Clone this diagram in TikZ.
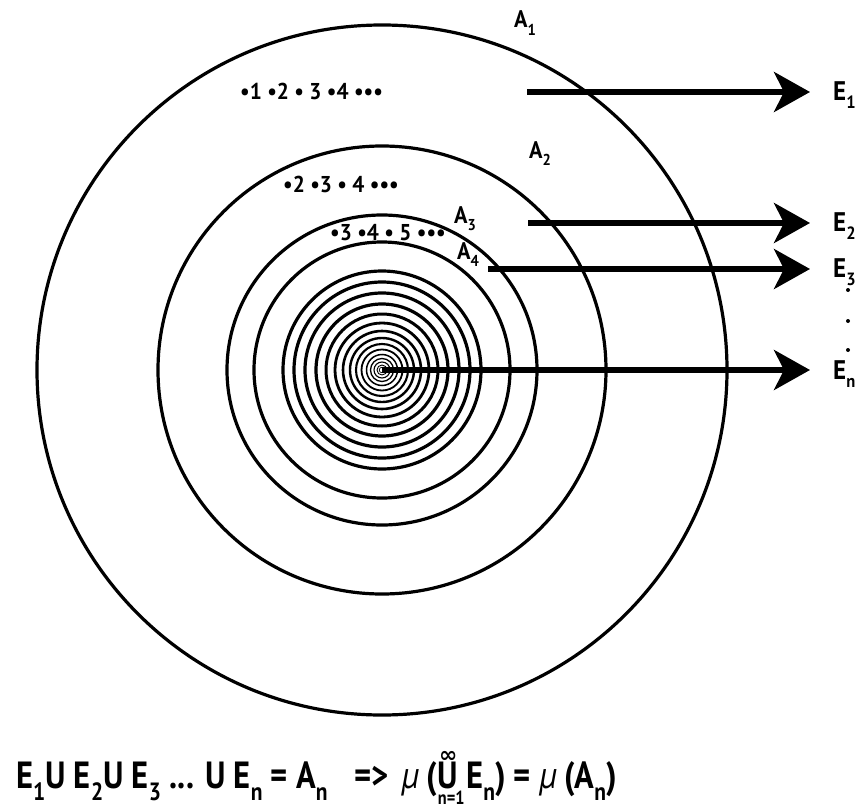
\documentclass[tikz,border=0pt]{standalone}
\usepackage{fontspec}
\usepackage{graphicx}
\setmainfont[FakeStretch=0.86]{PT Sans}
\newfontfamily\labfont[FakeStretch=0.93]{PT Sans}
\newfontfamily\symfont{DejaVu Sans}
\usetikzlibrary{arrows.meta}
\newcommand{\lsub}[1]{\raisebox{-0.32em}{\scalebox{0.66}{#1}}}
\tikzset{
  ring/.style={line width=3.2bp},
  arr/.style={line width=5.5bp,-{Stealth[length=36bp,width=40bp,inset=10bp]}},
  elab/.style={anchor=base west,inner sep=0pt,font=\labfont\bfseries\fontsize{27}{30}\selectfont},
  alab/.style={anchor=base west,inner sep=0pt,font=\labfont\bfseries\fontsize{24}{27}\selectfont},
  dlab/.style={anchor=base west,inner sep=0pt,font=\labfont\bfseries\fontsize{23}{26}\selectfont},
  flab/.style={anchor=base west,inner sep=0pt,font=\bfseries\fontsize{38}{42}\selectfont},
}
\begin{document}
\begin{tikzpicture}[x=1bp,y=-1bp]
\useasboundingbox (0,0) rectangle (862,810);
\coordinate (c) at (382,370);
% big circles
\draw[ring] (c) circle[radius=345bp];
\draw[ring] (c) circle[radius=224bp];
\draw[ring] (c) circle[radius=155bp];
\draw[ring] (c) circle[radius=128bp];
% inner rings
\foreach \r/\w in {99/3.2,88/3.2,77/3.2,66/3.2,56/3,47/2.8,39/2.6,32/2.4,26/2.1,20.5/1.8,15.5/1.5,11.5/1.3,8/1.1,5/0.9,2.8/0.7}
  \draw[line width=\w bp] (c) circle[radius=\r bp];
% labels A
\node[alab] (A1) at (514,28) {A\lsub{1}};
\node[alab] (A2) at (529,158) {A\lsub{2}};
\node[alab] (A3) at (454,223) {A\lsub{3}};
\node[alab] (A4) at (457,259) {A\lsub{4}};
% point lists
\node[dlab] (P1) at (240,99) {\textbullet1 \textbullet2 \textbullet\ 3 \textbullet4 \textbullet\textbullet\textbullet};
\node[dlab] (P2) at (283,192) {\textbullet2 \textbullet3 \textbullet\ 4 \textbullet\textbullet\textbullet};
\node[dlab] (P3) at (330,240) {\textbullet3 \textbullet4 \textbullet\ 5 \textbullet\textbullet\textbullet};
% arrows
\coordinate (s1) at (527,92);  \coordinate (t1) at (810,92);
\coordinate (s2) at (528,223); \coordinate (t2) at (810,223);
\coordinate (s3) at (488,269); \coordinate (t3) at (810,269);
\coordinate (tn) at (810,370);
\draw[arr] (s1) -- (t1);
\draw[arr] (s2) -- (t2);
\draw[arr] (s3) -- (t3);
\draw[arr] (c) -- (tn);
% labels E
\node[elab] (E1) at (833,100) {E\lsub{1}};
\node[elab] (E2) at (833,231) {E\lsub{2}};
\node[elab] (E3) at (833,277) {E\lsub{3}};
\node[elab] (En) at (833,379) {E\lsub{n}};
\fill (848,290) circle[radius=2bp];
\fill (848,321) circle[radius=2bp];
\fill (848,350) circle[radius=2bp];
% formula
\node[flab] (F1) at (16,788) {E\lsub{1}U E\lsub{2}U E\lsub{3} ... U E\lsub{n} = A\lsub{n}\hspace{0.7em}=>\hspace{0.35em}{\mdseries\itshape µ} (};
\node[flab] (U) at (F1.base east) {U};
\node[anchor=south,inner sep=0pt,font=\symfont\bfseries\fontsize{22}{24}\selectfont] (inf) at ([yshift=-1bp]U.north) {∞};
\node[anchor=north west,inner sep=0pt,font=\bfseries\fontsize{19}{21}\selectfont] (n1) at ([yshift=-2bp]U.south west) {n=1};
\node[flab] (F2) at (U.base east) {\hspace{0.2em}E\lsub{n}) = {\mdseries\itshape µ} (A\lsub{n})};
\end{tikzpicture}
\end{document}
